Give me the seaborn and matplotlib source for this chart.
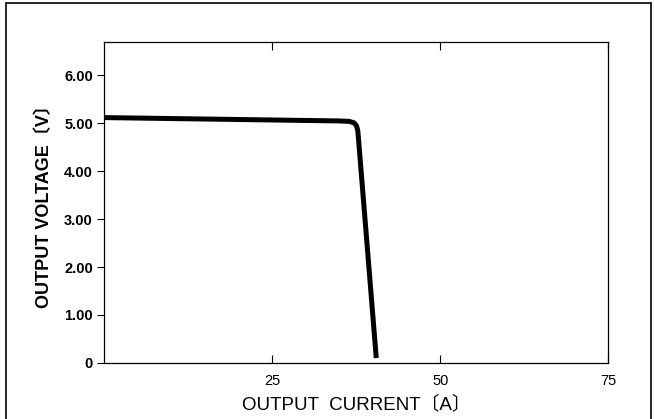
import matplotlib
matplotlib.use("Agg")
import matplotlib.pyplot as plt
import seaborn as sns
import pandas as pd
from matplotlib.patches import Rectangle

current = [0, 10, 20, 30, 35, 36.5, 37.2, 37.55, 37.75, 37.9, 40.5]
voltage = [5.12, 5.10, 5.08, 5.06, 5.05, 5.04, 5.01, 4.95, 4.85, 4.6, 0.1]
x_ticks = [25, 50, 75]
x_tick_labels = ["25", "50", "75"]
y_ticks = [0, 1, 2, 3, 4, 5, 6]
y_tick_labels = ["0", "1.00", "2.00", "3.00", "4.00", "5.00", "6.00"]

sns.set_theme(style="white")
plt.rcParams["font.family"] = ["Liberation Sans", "Noto Sans CJK JP", "DejaVu Sans"]
plt.rcParams["text.color"] = "black"
plt.rcParams["axes.labelcolor"] = "black"

df = pd.DataFrame({"current": current, "voltage": voltage})

fig = plt.figure(figsize=(6.54, 4.19), dpi=100)
ax = fig.add_axes([0.159, 0.134, 0.771, 0.766])
sns.lineplot(data=df, x="current", y="voltage", sort=False, ax=ax,
             color="black", linewidth=3.6, solid_capstyle="butt", solid_joinstyle="round")

ax.set_xlim(0, 75)
ax.set_ylim(0, 6.7)
ax.set_xticks(x_ticks)
ax.set_xticklabels(x_tick_labels, fontsize=10.5)
ax.set_yticks(y_ticks)
ax.set_yticklabels(y_tick_labels, fontsize=10.5, fontweight="bold")
ax.tick_params(axis="x", direction="in", length=6, width=0.8, top=True, bottom=True, pad=8, colors="black")
ax.tick_params(axis="y", direction="out", length=5, width=0.8, left=True, pad=3, colors="black")
for s in ax.spines.values():
    s.set_color("black")
    s.set_linewidth(0.9)
ax.set_xlabel("OUTPUT  CURRENT〔A〕", fontsize=13.5, labelpad=5, color="black")
ax.set_ylabel("OUTPUT VOLTAGE〔V〕", fontsize=13, fontweight="bold", labelpad=8, color="black")

fig.patches.append(Rectangle((0.009, -0.01), 0.987, 1.003, transform=fig.transFigure,
                             fill=False, edgecolor="black", linewidth=1.2))

fig.savefig("out.png", dpi=100)
